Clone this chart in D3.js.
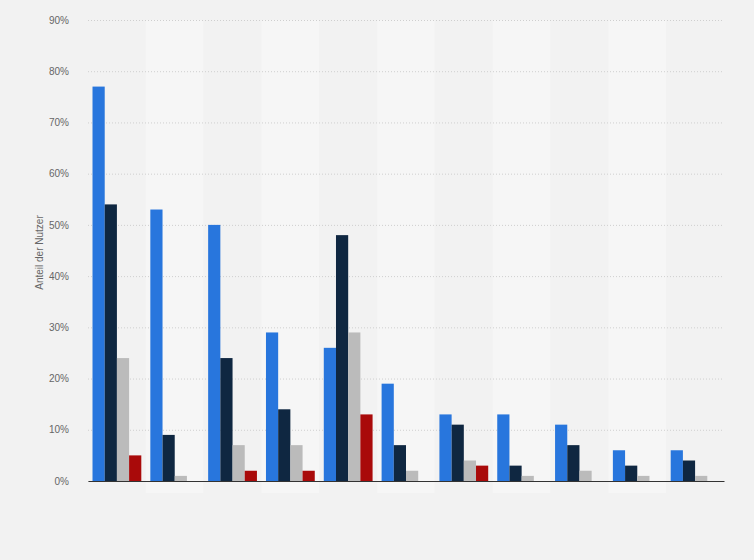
<!DOCTYPE html>
<html>
<head>
<meta charset="utf-8">
<script src="https://cdn.jsdelivr.net/npm/d3@7"></script>
<style>
  body { margin: 0; background: #f2f2f2; }
  svg { display: block; font-family: "Liberation Sans", Arial, sans-serif; }
</style>
</head>
<body>
<script>
// data (x labels are blank in the reference)
var categories = ["k1", "k2", "k3", "k4", "k5", "k6", "k7", "k8", "k9", "k10", "k11"];
var seriesNames = ["s1", "s2", "s3", "s4"];
var s1 = [77, 53, 50, 29, 26, 19, 13, 13, 11, 6, 6];
var s2 = [54, 9, 24, 14, 48, 7, 11, 3, 7, 3, 4];
var s3 = [24, 1, 7, 7, 29, 2, 4, 1, 2, 1, 1];
var s4 = [5, 0, 2, 2, 13, 0, 3, 0, 0, 0, 0];
var colors = ["#2876dd", "#0f2741", "#bbbbbb", "#a90a0a"];
var yTicks = [0, 10, 20, 30, 40, 50, 60, 70, 80, 90];

var width = 754;
var height = 560;
var margin = {top: 20, right: 30, bottom: 79, left: 88};

var svg = d3.select("body")
            .append("svg")
            .attr("width", width)
            .attr("height", height);

svg.append("rect")
   .attr("width", width)
   .attr("height", height)
   .attr("fill", "#f2f2f2");

var x = d3.scaleBand()
          .domain(categories)
          .range([margin.left, width - margin.right]);

var x1 = d3.scaleBand()
           .domain(seriesNames)
           .range([0, x.bandwidth()])
           .paddingOuter(0.37);

var y = d3.scaleLinear()
          .domain([0, 90])
          .range([height - margin.bottom, margin.top]);

// alternating column bands
svg.append("g")
   .selectAll("rect")
   .data(categories)
   .join("rect")
     .attr("x", d => x(d))
     .attr("y", margin.top)
     .attr("width", x.bandwidth())
     .attr("height", height - margin.bottom - margin.top + 12)
     .attr("fill", (d, i) => i % 2 ? "#f6f6f6" : "#f2f2f2");

// grid
var grid = svg.append("g")
   .attr("transform", `translate(${margin.left},0)`)
   .call(d3.axisLeft(y).tickValues(yTicks).tickSize(-(width - margin.left - margin.right)).tickFormat(""));
grid.select(".domain").remove();
grid.selectAll("line")
    .attr("stroke", "#cfcfcf")
    .attr("stroke-dasharray", "1,2");

// y tick labels
var yAxis = svg.append("g")
   .attr("transform", `translate(${margin.left - 16},0)`)
   .call(d3.axisLeft(y).tickValues(yTicks).tickSize(0).tickFormat(d => d + "%"));
yAxis.select(".domain").remove();
yAxis.selectAll("text")
     .attr("fill", "#666")
     .attr("font-size", 10)
     .attr("font-family", "Liberation Sans, Arial, sans-serif");

// bars
var all = [s1, s2, s3, s4];
var groups = svg.append("g")
   .selectAll("g")
   .data(categories)
   .join("g")
     .attr("transform", d => `translate(${x(d)},0)`);

groups.selectAll("rect")
   .data((d, i) => seriesNames.map((s, j) => ({s: s, v: all[j][i], c: colors[j]})))
   .join("rect")
     .attr("x", d => x1(d.s))
     .attr("y", d => y(d.v))
     .attr("width", x1.bandwidth())
     .attr("height", d => y(0) - y(d.v))
     .attr("fill", d => d.c);

// x axis line
var xAxis = svg.append("g")
   .attr("transform", `translate(0,${y(0)})`)
   .call(d3.axisBottom(x).tickSize(0).tickFormat(""));
xAxis.select(".domain").attr("stroke", "#333").attr("stroke-width", 1.2);

// y title
svg.append("text")
   .attr("transform", `translate(43,${(margin.top + y(0)) / 2 + 2}) rotate(-90)`)
   .attr("text-anchor", "middle")
   .attr("font-size", 10)
   .attr("fill", "#666")
   .text("Anteil der Nutzer");
</script>
</body>
</html>
